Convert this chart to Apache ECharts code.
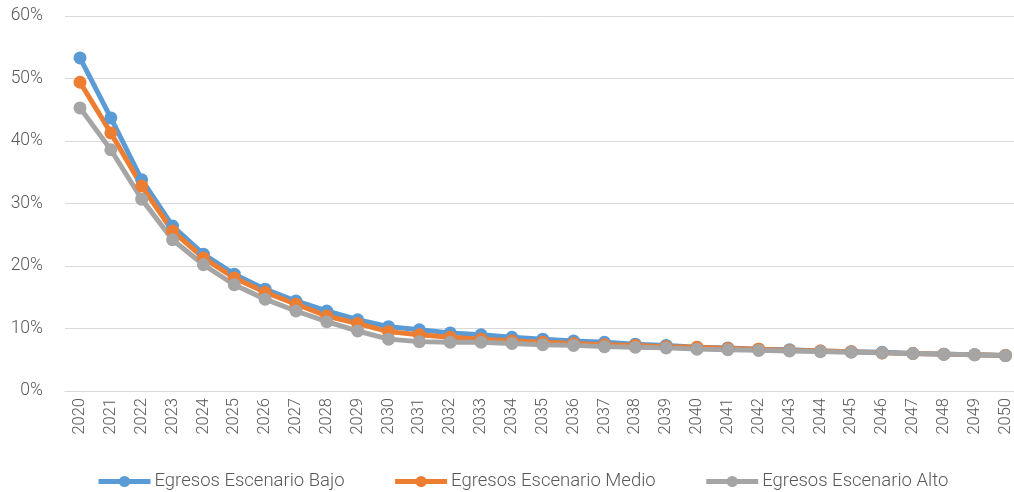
<!DOCTYPE html>
<html><head><meta charset="utf-8">
<script src="https://cdn.jsdelivr.net/npm/echarts@6/dist/echarts.min.js"></script>
<style>html,body{margin:0;padding:0;background:#fff}#c{width:1014px;height:492px}</style>
</head><body><div id="c"></div>
<script>
const years = ['2020','2021','2022','2023','2024','2025','2026','2027','2028','2029','2030','2031','2032','2033','2034','2035','2036','2037','2038','2039','2040','2041','2042','2043','2044','2045','2046','2047','2048','2049','2050'];
const bajo  = [53.3,43.7,33.8,26.4,21.9,18.7,16.3,14.4,12.8,11.4,10.3,9.8,9.3,9.0,8.6,8.3,8.0,7.8,7.5,7.3,7.0,6.9,6.7,6.6,6.4,6.3,6.2,6.0,5.9,5.8,5.7];
const medio = [49.4,41.3,32.8,25.6,21.3,18.1,15.8,13.9,12.0,10.8,9.5,9.0,8.6,8.3,8.0,7.8,7.6,7.4,7.3,7.1,7.0,6.8,6.7,6.5,6.4,6.3,6.1,6.0,5.9,5.8,5.7];
const alto  = [45.3,38.6,30.7,24.2,20.2,17.0,14.7,12.8,11.1,9.6,8.3,7.9,7.8,7.8,7.6,7.4,7.3,7.1,7.0,6.9,6.7,6.6,6.5,6.4,6.3,6.2,6.1,6.0,5.9,5.8,5.65];
const names = ['Egresos Escenario Bajo','Egresos Escenario Medio','Egresos Escenario Alto'];
const colors = ['#5B9BD5','#ED7D31','#A5A5A5'];
const font = 'Roboto';
const chart = echarts.init(document.getElementById('c'));
function s(name, data, color){
  return {name, type:'line', data, color, symbol:'circle', symbolSize:13,
    lineStyle:{width:5, color}, itemStyle:{color}, animation:false, z:3};
}
chart.setOption({
  animation:false,
  textStyle:{fontFamily:font},
  grid:[{left:80, right:8, top:16, bottom:101}, {left:65, right:0, top:16, bottom:101}],
  xAxis:[{type:'category', data:years, boundaryGap:false, gridIndex:0,
    axisLine:{show:false}, axisTick:{show:false}, splitLine:{show:false},
    axisLabel:{rotate:90, color:'#595959', fontSize:16.5, fontFamily:font, fontWeight:300, margin:7, interval:0}},
    {type:'value', gridIndex:1, min:0, max:1, show:true, axisLabel:{show:false}, axisTick:{show:false},
     splitLine:{show:false}, axisLine:{show:true, lineStyle:{color:'#D9D9D9'}}}],
  yAxis:[{type:'value', min:0, max:60, interval:10, gridIndex:0,
    axisLabel:{formatter:'{value}%', color:'#595959', fontSize:17.5, fontFamily:font, fontWeight:300, margin:37},
    splitLine:{show:false}, axisLine:{show:false}, axisTick:{show:false}},
    {type:'value', min:0, max:60, interval:10, gridIndex:1, axisLabel:{show:false},
    splitLine:{lineStyle:{color:'#D9D9D9', width:1}}, axisLine:{show:false}, axisTick:{show:false}}],
  legend:{top:467, left:91, itemWidth:52, itemHeight:14, itemGap:48,
    lineStyle:{width:5},
    textStyle:{color:'#595959', fontSize:18.5, fontFamily:font, fontWeight:300, padding:[0,0,0,-1]}, data:names},
  series:[s(names[0],bajo,colors[0]), s(names[1],medio,colors[1]), s(names[2],alto,colors[2])]
});
</script></body></html>
